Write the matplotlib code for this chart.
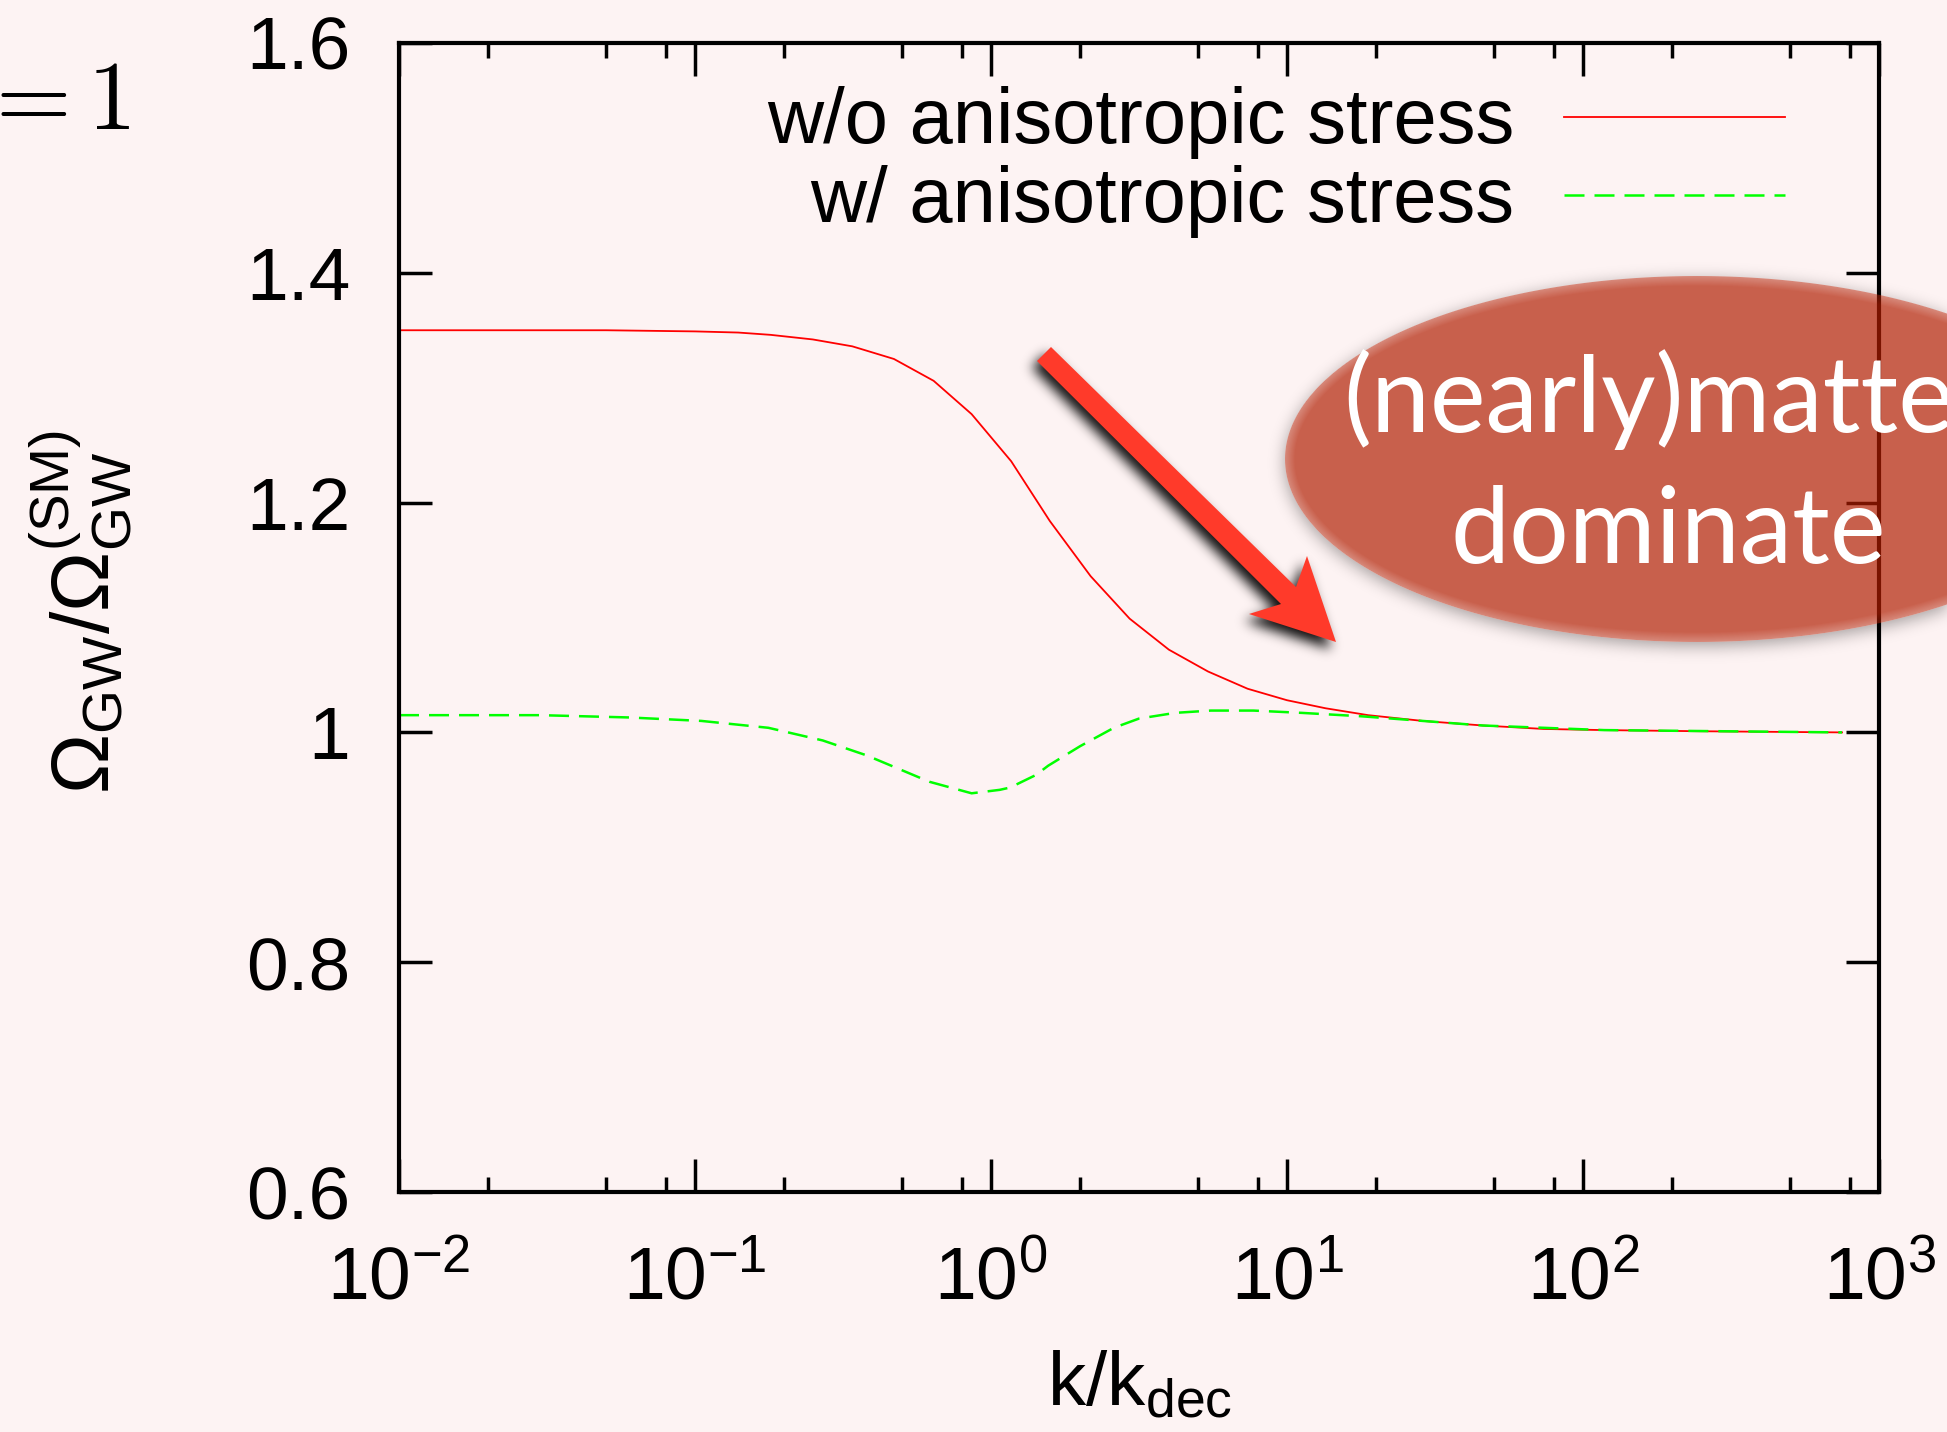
import numpy as np
import matplotlib
matplotlib.use('Agg')
import matplotlib.pyplot as plt
from matplotlib.patches import Polygon
from matplotlib.path import Path
from matplotlib.ticker import LogLocator, NullFormatter, NullLocator

# k/k_dec and Omega_GW / Omega_GW^(SM), without anisotropic stress
k_no_stress = [0.01, 0.02, 0.05, 0.1, 0.14, 0.18, 0.25, 0.34, 0.47, 0.64, 0.86,
               1.17, 1.58, 2.17, 2.94, 3.99, 5.41, 7.36, 10.0, 13.5, 18.8,
               28.7, 45.9, 73.6, 118.0, 250.0, 750.0]
ratio_no_stress = [1.350, 1.350, 1.350, 1.349, 1.348, 1.346, 1.342, 1.336, 1.325,
                   1.306, 1.277, 1.236, 1.184, 1.136, 1.099, 1.072, 1.053, 1.038,
                   1.028, 1.021, 1.015, 1.010, 1.006, 1.003, 1.002, 1.001, 1.000]

# same, with anisotropic stress of free-streaming particles
k_stress = [0.01, 0.03, 0.06, 0.105, 0.177, 0.27, 0.38, 0.62, 0.86, 1.07, 1.16,
            1.42, 1.56, 2.0, 2.6, 3.16, 4.19, 5.53, 7.7, 11.2, 17.9, 28.7,
            45.9, 118.0, 750.0]
ratio_stress = [1.015, 1.015, 1.013, 1.010, 1.004, 0.993, 0.980, 0.957, 0.947,
                0.950, 0.952, 0.963, 0.971, 0.988, 1.004, 1.012, 1.017, 1.019,
                1.019, 1.017, 1.014, 1.010, 1.006, 1.002, 1.000]

series_labels = ['w/o anisotropic stress', 'w/ anisotropic stress']

y_ticks = [0.6, 0.8, 1.0, 1.2, 1.4, 1.6]
y_tick_labels = ['0.6', '0.8', '1', '1.2', '1.4', '1.6']
x_ticks = [1e-2, 1e-1, 1e0, 1e1, 1e2, 1e3]
x_tick_labels = [r'$\mathregular{10^{-2}}$', r'$\mathregular{10^{-1}}$',
                 r'$\mathregular{10^{0}}$', r'$\mathregular{10^{1}}$',
                 r'$\mathregular{10^{2}}$', r'$\mathregular{10^{3}}$']

W, H = 1947, 1432
BG = '#fdf3f3'

plt.rcParams['font.family'] = ['Liberation Sans', 'DejaVu Sans']
plt.rcParams['mathtext.fontset'] = 'custom'
plt.rcParams['mathtext.rm'] = 'Liberation Sans'
plt.rcParams['mathtext.it'] = 'Liberation Sans:italic'


def blur(img, sigma):
    r = int(3 * sigma)
    t = np.arange(-r, r + 1)
    kern = np.exp(-0.5 * (t / sigma) ** 2)
    kern /= kern.sum()
    img = np.apply_along_axis(lambda v: np.convolve(v, kern, mode='same'), 0, img)
    img = np.apply_along_axis(lambda v: np.convolve(v, kern, mode='same'), 1, img)
    return img


fig = plt.figure(figsize=(W / 100, H / 100), dpi=100, facecolor=BG)
ax = fig.add_axes([399 / W, 1 - 1192 / H, 1480 / W, 1149 / H], facecolor=BG)

ax.plot(k_no_stress, ratio_no_stress, color='#ff0000', lw=1.3)
ax.plot(k_stress, ratio_stress, color='#00ff00', lw=1.8, dashes=(8, 4))

ax.set_xscale('log')
ax.set_xticks(x_ticks)
ax.set_xticklabels(x_tick_labels)
ax.xaxis.set_minor_locator(LogLocator(base=10, subs=(2, 5, 8)))
ax.xaxis.set_minor_formatter(NullFormatter())
ax.set_yticks(y_ticks)
ax.set_yticklabels(y_tick_labels)
ax.yaxis.set_minor_locator(NullLocator())

for s in ax.spines.values():
    s.set_linewidth(3)
ax.tick_params(which='both', direction='in', top=True, right=True, width=2.5)
ax.tick_params(which='major', length=24, labelsize=54)
ax.tick_params(which='minor', length=11)
ax.tick_params(axis='x', pad=38)
ax.tick_params(axis='y', pad=35)

# key, right-aligned text with sample line after it
ax.text(0.7534, 0.913, series_labels[0], transform=ax.transAxes, ha='right',
        va='baseline', fontsize=56)
ax.text(0.7534, 0.8442, series_labels[1], transform=ax.transAxes, ha='right',
        va='baseline', fontsize=56)
ax.plot([0.787, 0.9365], [0.9356, 0.9356], transform=ax.transAxes,
        color='#ff0000', lw=1.3)
ax.plot([0.787, 0.9365], [0.8677, 0.8677], transform=ax.transAxes,
        color='#00ff00', lw=1.8, dashes=(8, 4))

ax.set_xlim(1e-2, 1e3)
ax.set_ylim(0.6, 1.6)

fig.text(1140 / W, 1 - 1405 / H, r'$\mathregular{k/k_{dec}}$', ha='center',
         va='baseline', fontsize=55)
fig.text(80 / W, 1 - 612 / H, r'$\mathregular{Ω_{GW}/Ω_{GW}^{(SM)}}$',
         rotation=90, ha='center', va='center', fontsize=58)
fig.text(131 / W, 1 - 129 / H, r'$=1$', ha='right', va='baseline',
         fontsize=70, math_fontfamily='cm')

# pixel-space layer for the callout
ov = fig.add_axes([0, 0, 1, 1])
ov.set_axis_off()
ov.patch.set_alpha(0)

# ellipse with soft rim and shadow
cx, cy, a, b = 1697.0, 459.0, 412.0, 183.0
ex0, ex1, ey0, ey1 = 1230, W, 220, 720
X, Y = np.meshgrid(np.arange(ex0, ex1) + 0.5, np.arange(ey0, ey1) + 0.5)
q = np.sqrt(((X - cx) / a) ** 2 + ((Y - cy) / b) ** 2)
gx = (X - cx) / a ** 2 / np.maximum(q, 1e-6)
gy = (Y - cy) / b ** 2 / np.maximum(q, 1e-6)
dist = (1 - q) / np.maximum(np.hypot(gx, gy), 1e-6)
cover = np.clip(dist + 0.5, 0, 1)

qs = np.sqrt(((X - cx) / a) ** 2 + ((Y - cy - 4) / b) ** 2)
shadow = blur((qs <= 1).astype(float), 8) * 0.35 * (1 - cover)
img = np.zeros(X.shape + (4,))
img[..., 3] = shadow
ov.imshow(img, extent=(ex0, ex1, ey1, ey0), interpolation='bilinear', aspect='auto')

img = np.zeros(X.shape + (4,))
img[..., 0] = 177 / 255
img[..., 1] = 29 / 255
img[..., 2] = 0
img[..., 3] = 0.69 * cover * (0.72 + 0.28 * np.clip(dist / 10, 0, 1))
ov.imshow(img, extent=(ex0, ex1, ey1, ey0), interpolation='bilinear', aspect='auto')

ov.text(1668, 432, '(nearly)matter', ha='center', va='baseline', fontsize=76,
        family='Lato', color='white')
ov.text(1668, 563, 'dominate', ha='center', va='baseline', fontsize=76,
        family='Lato', color='white')

# arrow with drop shadow
arrow = [(1037, 361), (1051, 347), (1296, 587), (1307, 556), (1336, 642),
         (1249, 614), (1281, 604)]
ax0, ax1, ay0, ay1 = 990, 1400, 300, 700
X, Y = np.meshgrid(np.arange(ax0, ax1) + 0.5, np.arange(ay0, ay1) + 0.5)
pts = np.column_stack([X.ravel() + 5, Y.ravel() - 7])
mask = Path(arrow + [arrow[0]], closed=True).contains_points(pts).reshape(X.shape)
img = np.zeros(X.shape + (4,))
img[..., 3] = np.clip(blur(mask.astype(float), 6) * 0.95, 0, 1)
ov.imshow(img, extent=(ax0, ax1, ay1, ay0), interpolation='bilinear', aspect='auto')
ov.add_patch(Polygon(arrow, closed=True, facecolor='#ff3a2a', edgecolor='none'))

ov.set_xlim(0, W)
ov.set_ylim(H, 0)

fig.savefig('out.png', dpi=100, facecolor=BG)
